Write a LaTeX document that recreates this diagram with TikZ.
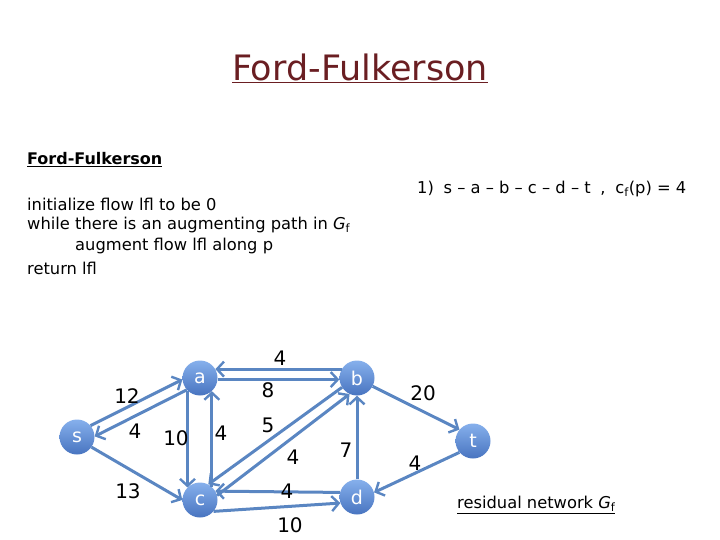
\documentclass[tikz,border=0pt]{standalone}
\usepackage{fontspec}
\setmainfont{DejaVu Sans}
\usepackage{tikz}
\usetikzlibrary{positioning}
\usetikzlibrary{arrows.meta}

\definecolor{edgeblue}{HTML}{5A86C2}
\definecolor{nodetop}{HTML}{86B0EC}
\definecolor{nodebot}{HTML}{4874C0}
\definecolor{titlered}{HTML}{6A1E22}

\begin{document}
\begin{tikzpicture}[x=1pt, y=-1pt]
			\tikzset{
				vertex/.style={circle, minimum size=35pt, inner sep=0pt, top color=nodetop, bottom color=nodebot, draw=none, text=white, font=\fontsize{19}{19}\selectfont},
				edge/.style={draw=edgeblue, line width=3pt, -{Straight Barb[length=7pt, width=15pt, line width=2.4pt]}},
				wt/.style={font=\fontsize{20}{20}\selectfont, text=black},
				txt/.style={anchor=west, font=\fontsize{16.3}{16.3}\selectfont, inner sep=0pt}
			}
			\useasboundingbox (0,0) rectangle (720,540);

			% Title
			\node[font=\fontsize{35}{35}\selectfont, text=titlered] (title) at (360,68) {\underline{Ford-Fulkerson}};

			% Algorithm
			\node[txt, font=\fontsize{16}{16}\selectfont\bfseries] (algo) at (27,160) {\underline{Ford-Fulkerson}};
			\node[txt] (line1) at (27,204) {initialize flow lfl to be 0};
			\node[txt] (line2) at (27,225) {while there is an augmenting path in \textit{G}\textsubscript{f}};
			\node[txt] (line3) at (75,246) {augment flow lfl along p};
			\node[txt] (line4) at (27,268) {return lfl};

			% Augmenting path
			\node[txt] (path) at (417,189) {1)\; s -- a -- b -- c -- d -- t\; ,\; c\textsubscript{f}(p) = 4};

			% Vertices
			\node[vertex] (s) at (77,437) {s};
			\node[vertex] (a) at (200,378) {a};
			\node[vertex] (b) at (357,378) {b};
			\node[vertex] (c) at (200,500) {c};
			\node[vertex] (d) at (357,497) {d};
			\node[vertex] (t) at (473,441) {t};

			% Residual edges
			\draw[edge] (s.40) -- (a.185);
			\draw[edge] (a.222) -- (s.2);
			\draw[edge] (s.-35) -- (c.180);
			\draw[edge] (a.-135) -- (c.135);
			\draw[edge] (c.48) -- (a.-48);
			\draw[edge] (b.150) -- (a.30);
			\draw[edge] (a.-5) -- (b.185);
			\draw[edge] (b.212) -- (c.62);
			\draw[edge] (c.15) -- (b.245);
			\draw[edge] (d.90) -- (b.270);
			\draw[edge] (d.165) -- (c.30);
			\draw[edge] (c.-40) -- (d.-160);
			\draw[edge] (b.-28) -- (t.140);
			\draw[edge] (t.-140) -- (d.15);

			% Capacities
			\node[wt] (w1) at (127,396) {12};
			\node[wt] (w2) at (135,431) {4};
			\node[wt] (w3) at (128,491) {13};
			\node[wt] (w4) at (176,438) {10};
			\node[wt] (w5) at (221,433) {4};
			\node[wt] (w6) at (280,358) {4};
			\node[wt] (w7) at (268,390) {8};
			\node[wt] (w8) at (268,425) {5};
			\node[wt] (w9) at (293,457) {4};
			\node[wt] (w10) at (346,450) {7};
			\node[wt] (w11) at (287,491) {4};
			\node[wt] (w12) at (290,525) {10};
			\node[wt] (w13) at (423,393) {20};
			\node[wt] (w14) at (415,463) {4};

			% Caption
			\node[txt] (caption) at (457,505) {\underline{residual network \textit{G}\textsubscript{f}}};
		\end{tikzpicture}
\end{document}
